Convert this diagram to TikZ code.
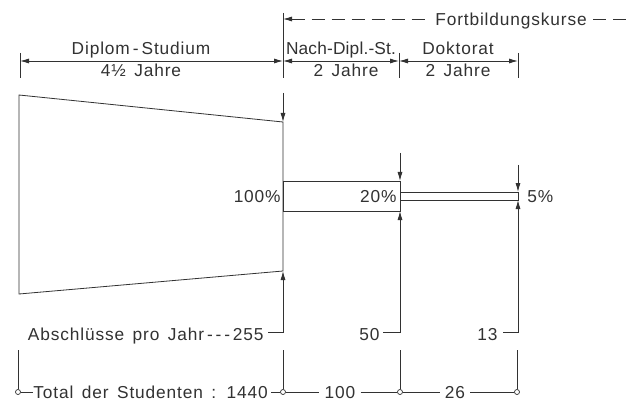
\documentclass[tikz,border=0pt]{standalone}
\usepackage{fontspec}
\setmainfont[LetterSpace=5,WordSpace=1.5]{Liberation Sans}
\usetikzlibrary{arrows.meta}
\definecolor{ink}{RGB}{50,50,50}
\begin{document}
\begin{tikzpicture}[x=1pt,y=-1pt,line width=0.8pt,draw=ink,
  lbl/.style={inner sep=0pt,text=ink,font=\fontsize{17.3}{20}\selectfont},
  gaplbl/.style={lbl,inner xsep=5pt},
  tipend/.style={-{Latex[length=9pt,width=5pt]}},
  dimline/.style={{Latex[length=9pt,width=5pt]}-{Latex[length=9pt,width=5pt]}},
  dashln/.style={dash pattern=on 13pt off 7pt},
  dot/.style={circle,draw=ink,fill=white,inner sep=0pt,minimum size=5pt,line width=0.7pt}]
\useasboundingbox[fill=white] (0,0) rectangle (632,401);

% ---- top dimension lines ----
\coordinate (tA) at (20,61);
\coordinate (tB) at (283,61);
\coordinate (tC) at (399,61);
\coordinate (tD) at (518,61);
\coordinate (tAt) at (20,53);  \coordinate (tAb) at (20,78);
\coordinate (tBt) at (283,13); \coordinate (tBb) at (283,78);
\coordinate (tCt) at (399,53); \coordinate (tCb) at (399,78);
\coordinate (tDt) at (518,53); \coordinate (tDb) at (518,78);
\draw (tAt) -- (tAb);
\draw (tBt) -- (tBb);
\draw (tCt) -- (tCb);
\draw (tDt) -- (tDb);
\draw[dimline] (tA) -- (tB);
\draw[dimline] (tB) -- (tC);
\draw[dimline] (tC) -- (tD);

\node[lbl,anchor=base] (dipl) at (141,55) {Diplom\hspace{3pt}-\hspace{3pt}Studium};
\node[lbl,anchor=base] (diplj) at (141,77) {4½ Jahre};
\node[lbl,anchor=base] (nach) at (341,55) {\addfontfeatures{LetterSpace=1}Nach-Dipl.-St.};
\node[lbl,anchor=base] (nachj) at (346,77) {2 Jahre};
\node[lbl,anchor=base] (dok) at (458,55) {Doktorat};
\node[lbl,anchor=base] (dokj) at (458,77) {2 Jahre};

% ---- Fortbildungskurse ----
\coordinate (fA) at (283,19);
\coordinate (fE) at (632,19);
\node[lbl,inner xsep=6pt,anchor=base] (fort) at (511,26) {Fortbildungskurse};
\draw[dashln,{Latex[length=9pt,width=5pt]}-] (fA) -- (fA -| fort.west);
\draw[dashln] (fE -| fort.east) -- (fE);

% ---- shapes ----
\draw (19,95) -- (283,122) -- (283,271) -- (19,294) -- cycle;
\draw (283,181) rectangle (400,211);
\draw (400,192) rectangle (518,200);

\node[lbl,anchor=base east] (p100) at (281,202) {100\%};
\node[lbl,anchor=base east] (p20) at (397,202) {20\%};
\node[lbl,anchor=base west] (p5) at (527,202) {5\%};

% ---- marker arrows ----
\coordinate (a1s) at (283,93);  \coordinate (a1e) at (283,122);
\coordinate (a2s) at (400,153); \coordinate (a2e) at (400,181);
\coordinate (a3s) at (518,165); \coordinate (a3e) at (518,192);
\draw[tipend] (a1s) -- (a1e);
\draw[tipend] (a2s) -- (a2e);
\draw[tipend] (a3s) -- (a3e);

% ---- Abschluesse ----
\node[lbl,anchor=base east] (abs) at (264,340) {Abschlüsse pro Jahr\,{-}\,{-}\,{-}\,255};
\node[lbl,anchor=base east] (n50) at (380,340) {50};
\node[lbl,anchor=base east] (n13) at (498,340) {13};
\coordinate (b1) at (283,332); \coordinate (b1t) at (283,271);
\coordinate (b2) at (400,332); \coordinate (b2t) at (400,211);
\coordinate (b3) at (518,332); \coordinate (b3t) at (518,200);
\draw[tipend] ([xshift=4pt]abs.east |- b1) -- (b1) -- (b1t);
\draw[tipend] ([xshift=3pt]n50.east |- b2) -- (b2) -- (b2t);
\draw[tipend] ([xshift=5pt]n13.east |- b3) -- (b3) -- (b3t);

% ---- totals ----
\node[dot] (c1) at (18,392) {};
\node[dot] (c2) at (283,392) {};
\node[dot] (c3) at (400,392) {};
\node[dot] (c4) at (517,392) {};
\coordinate (v1) at (18,350);
\coordinate (v2) at (283,350);
\coordinate (v3) at (400,350);
\coordinate (v4) at (517,350);
\draw (v1) -- (c1);
\draw (v2) -- (c2);
\draw (v3) -- (c3);
\draw (v4) -- (c4);
\node[lbl,anchor=base west] (tot) at (33,398) {Total der Studenten : 1440};
\node[gaplbl,anchor=base] (n100) at (340,398) {100};
\node[gaplbl,anchor=base] (n26) at (455,398) {26};
\draw (c1) -- (c1 -| tot.west);
\draw ([xshift=3pt]c2 -| tot.east) -- (c2);
\draw (c2) -- (c2 -| n100.west);
\draw (c3 -| n100.east) -- (c3);
\draw (c3) -- (c3 -| n26.west);
\draw (c4 -| n26.east) -- (c4);
\end{tikzpicture}
\end{document}
